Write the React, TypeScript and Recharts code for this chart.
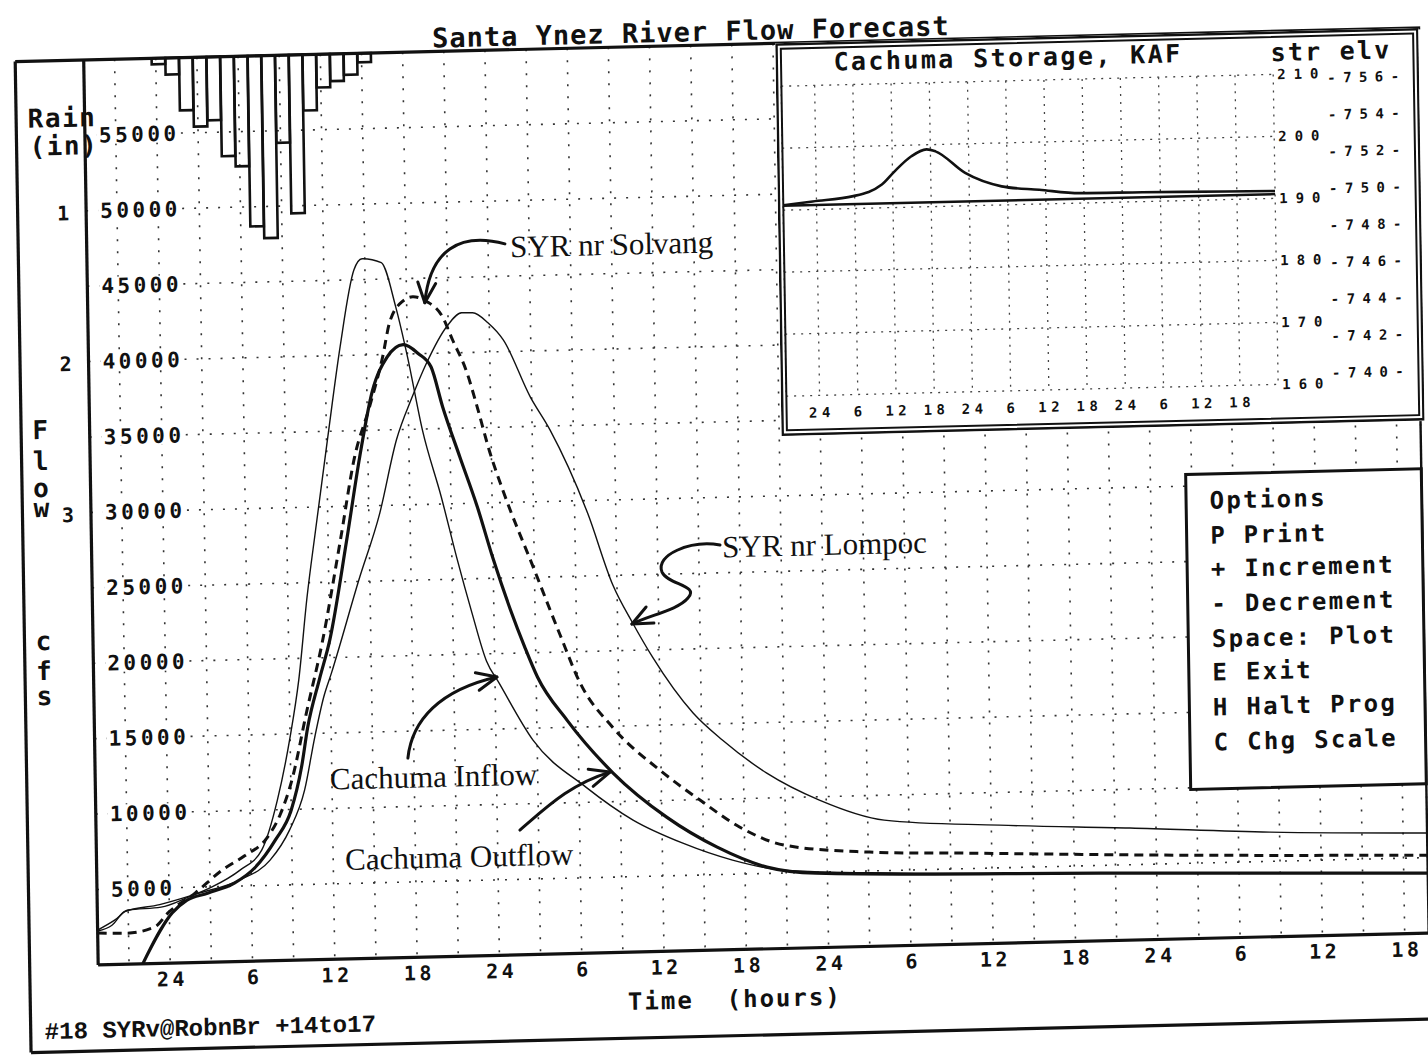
import React from 'react';
import {
  ComposedChart,
  LineChart,
  Line,
  Bar,
  XAxis,
  YAxis,
  CartesianGrid,
  ReferenceLine,
} from 'recharts';

// Hours are counted from the midnight before the storm: 24 = midnight, 30 = 6 am, 36 = noon ...
const timeTicks = [21, 24, 27, 30, 33, 36, 39, 42, 45, 48, 51, 54, 57, 60, 63, 66, 69, 72, 75, 78, 81, 84, 87, 90, 93, 96, 99, 102, 105, 108, 111, 114];
const timeLabelHours = [24, 30, 36, 42, 48, 54, 60, 66, 72, 78, 84, 90, 96, 102, 108, 114];
const timeLabels = ['24', '6', '12', '18', '24', '6', '12', '18', '24', '6', '12', '18', '24', '6', '12', '18'];
const flowTicks = [5000, 10000, 15000, 20000, 25000, 30000, 35000, 40000, 45000, 50000, 55000];
const rainTicks = [1, 2, 3];

// hourly rain (inches), bars hang from the top of the plot
const rainHours = [24.2, 25.2, 26.2, 27.2, 28.2, 29.2, 30.2, 31.2, 32.2, 33.2, 34.2, 35.2, 36.2, 37.2, 38.2, 39.2];
const rainInches = [0.04, 0.11, 0.35, 0.46, 0.42, 0.66, 0.73, 1.13, 1.21, 0.58, 1.05, 0.37, 0.22, 0.18, 0.14, 0.06];

// Cachuma Inflow (cfs)
const inflowHours = [18.75, 20, 21, 23.4, 25.4, 27.1, 29.2, 30.8, 32, 33, 33.7, 34.4, 35.1, 36.1, 37.1, 38.2, 38.8, 40.2, 41.2, 42, 43, 44.3, 45.35, 46.4, 47.4, 48.3, 50.7, 54.5, 57.9, 61.5, 65.1, 68.8, 77.3, 91.9, 115.75];
const inflowCfs = [2310, 2940, 3590, 3730, 4350, 4970, 6060, 7350, 10640, 14790, 18570, 24050, 28480, 34630, 40580, 45660, 46380, 46090, 43140, 39810, 34950, 30470, 26440, 22740, 19530, 18040, 14210, 11010, 8750, 7140, 5940, 5190, 4810, 4490, 3970];

// Cachuma Outflow (cfs)
const outflowHours = [22, 24.2, 25.3, 26.8, 28.8, 30.3, 31.8, 33, 33.8, 34.3, 35.2, 36, 37.35, 38.4, 39.4, 40.5, 41.7, 42.8, 43.7, 44.5, 45.7, 46.9, 48, 49.2, 50.2, 51.1, 53.2, 56.5, 60.35, 64, 67.6, 71.2, 91.9, 115.75];
const outflowCfs = [0, 3320, 4150, 4580, 5220, 6210, 7990, 9960, 12790, 15430, 18560, 21140, 27730, 33250, 37600, 39800, 40620, 40000, 39110, 36450, 33090, 29800, 26300, 22900, 20400, 18380, 15480, 11900, 8890, 6820, 5420, 4940, 4490, 3970];

// SYR nr Solvang (cfs)
const solvangHours = [18.75, 20.9, 22.9, 23.9, 25.9, 27.9, 29.55, 31.2, 32.2, 33.1, 34.25, 35.45, 36.9, 38.03, 39.17, 40.19, 40.73, 41.7, 42.45, 43.46, 44.6, 45.3, 46.3, 47, 47.9, 48.8, 51, 52.8, 54.2, 56.5, 59.9, 62.8, 65.65, 68.9, 75.1, 82.1, 96, 115.75];
const solvangCfs = [2110, 2060, 2420, 3340, 4610, 6090, 7000, 8150, 9700, 12000, 16500, 21000, 27780, 33260, 36540, 39850, 42100, 43490, 43780, 43450, 42400, 40870, 38710, 36450, 33320, 30800, 25480, 21130, 17920, 14950, 12020, 9970, 8120, 6850, 6250, 6030, 5600, 5160];

// SYR nr Lompoc (cfs)
const lompocHours = [18.75, 19.8, 20.75, 23.3, 26.2, 29.15, 31.4, 32.85, 34, 34.8, 35.5, 36.1, 38.2, 39.8, 41.1, 42.3, 43.4, 44.9, 46, 46.8, 47.9, 49, 50.9, 52.3, 54.95, 56.7, 58.1, 59.5, 62.4, 64.5, 67.7, 71.5, 76.2, 84.6, 94.1, 104.3, 115.75];
const lompocCfs = [2250, 2610, 3500, 3900, 4600, 5400, 6670, 8630, 11270, 14760, 17400, 19000, 25110, 29500, 34330, 37150, 39400, 41760, 42640, 42630, 41940, 40780, 36960, 34740, 29150, 24360, 21810, 19530, 15750, 13910, 11650, 9780, 8350, 7830, 7430, 6940, 6630];

// inset: Cachuma storage (KAF)
const insetTimeTicks = [24, 30, 36, 42, 48, 54, 60, 66, 72, 78, 84, 90];
const insetTimeLabels = ['24', '6', '12', '18', '24', '6', '12', '18', '24', '6', '12', '18'];
const storageTicks = [160, 170, 180, 190, 200, 210];
const elevTicks = [740, 742, 744, 746, 748, 750, 752, 754, 756];
const storageHours = [18.75, 23.4, 29.8, 34.3, 36.3, 39, 41.4, 42.8, 47.4, 53.1, 59, 65.4, 75.2, 88.2, 96];
const storageKaf = [190.8, 191.3, 192.0, 193.75, 195.8, 198.2, 199.25, 198.9, 195.3, 193.0, 192.3, 191.6, 191.5, 191.3, 191.2];
const storageBaseKaf = 190.7;

const optionLines = ['Options', 'P Print', '+ Increment', '- Decrement', 'Space: Plot', 'E Exit', 'H Halt Prog', 'C Chg Scale'];

// ---- layout ----
const W = 1428;
const H = 1064;
const PLOT = { left: 91.5, top: 45, right: 1422, bottom: 950 };
const TIME_DOMAIN: [number, number] = [18.75, 115.75];
const FLOW_DOMAIN: [number, number] = [0, 60000];
const RAIN_DOMAIN: [number, number] = [0, 6];
const INSET = { left: 782.7, top: 45, right: 1426, bottom: 437.6 };
const INSET_PLOT = { left: 788, top: 88, right: 1280, bottom: 398 };
const INSET_TIME_DOMAIN: [number, number] = [18.75, 96];
const STORAGE_DOMAIN: [number, number] = [160, 210];
const ELEV_DOMAIN: [number, number] = [739.44, 756.25];
// axes get a 1px size (a 0px axis is not drawn); margins make up for it
const AX = 1;
// the printout was scanned a little crooked
const SCAN_SKEW = 'matrix(1, -0.024, 0.016, 1, 0, 0)';

const MONO = '"DejaVu Sans Mono", monospace';
const CODE = '"Liberation Mono", monospace';
const SERIF = '"Liberation Serif", serif';
const INK = '#111';

type Row = { t: number; [key: string]: number };

function mergeSeries(series: [string, number[], number[]][]): Row[] {
  const byHour = new Map<number, Row>();
  series.forEach(([key, hours, values]) => {
    hours.forEach((t, i) => {
      const row = byHour.get(t) ?? { t };
      row[key] = values[i];
      byHour.set(t, row);
    });
  });
  return [...byHour.values()].sort((a, b) => a.t - b.t);
}

const flowData = mergeSeries([
  ['inflow', inflowHours, inflowCfs],
  ['outflow', outflowHours, outflowCfs],
  ['solvang', solvangHours, solvangCfs],
  ['lompoc', lompocHours, lompocCfs],
]);
const rainData = rainHours.map((t, i) => ({ t, rain: rainInches[i] }));
const storageData = storageHours.map((t, i) => ({ t, kaf: storageKaf[i] }));

function FlowTick(props: any) {
  const { y, payload } = props;
  const label = String(payload.value);
  return (
    <g>
      <rect x={PLOT.left + 12} y={y - 9} width={label.length * 16.2 + 2} height={18} fill="#fff" />
      <text x={PLOT.left + 14} y={y + 7.5} fontFamily={MONO} fontWeight="bold" fontSize={21} letterSpacing={3.5} fill={INK}>
        {label}
      </text>
    </g>
  );
}

function TimeTick(props: any) {
  const { x, payload } = props;
  const i = timeLabelHours.indexOf(payload.value);
  if (i < 0) return <g />;
  return (
    <text x={x + 2} y={PLOT.bottom + 23} textAnchor="middle" fontFamily={MONO} fontWeight="bold" fontSize={20} letterSpacing={3.5} fill={INK}>
      {timeLabels[i]}
    </text>
  );
}

function RainTick(props: any) {
  const { y, payload } = props;
  return (
    <text x={PLOT.left - 23} y={y + 9} textAnchor="middle" fontFamily={MONO} fontWeight="bold" fontSize={20} fill={INK}>
      {payload.value}
    </text>
  );
}

function InsetTimeTick(props: any) {
  const { x, payload } = props;
  const i = insetTimeTicks.indexOf(payload.value);
  if (i < 0) return <g />;
  return (
    <text x={x + 2} y={INSET_PLOT.bottom - INSET.top + 22} textAnchor="middle" fontFamily={MONO} fontWeight="bold" fontSize={14} letterSpacing={4.5} fill={INK}>
      {insetTimeLabels[i]}
    </text>
  );
}

function StorageTick(props: any) {
  const { y, payload } = props;
  return (
    <text x={INSET_PLOT.right - INSET.left + 4} y={y + 5} fontFamily={MONO} fontWeight="bold" fontSize={14} letterSpacing={8} fill={INK}>
      {payload.value}
    </text>
  );
}

function ElevTick(props: any) {
  const { y, payload } = props;
  return (
    <text x={1334 - INSET.left} y={y + 5} fontFamily={MONO} fontWeight="bold" fontSize={14} letterSpacing={7.4} fill={INK}>
      {`-${payload.value}-`}
    </text>
  );
}

function Arrow({ d, tip, from }: { d: string; tip: [number, number]; from: [number, number] }) {
  const ang = Math.atan2(tip[1] - from[1], tip[0] - from[0]);
  const len = 22;
  const spread = 0.42;
  const a1 = [tip[0] - len * Math.cos(ang - spread), tip[1] - len * Math.sin(ang - spread)];
  const a2 = [tip[0] - len * Math.cos(ang + spread), tip[1] - len * Math.sin(ang + spread)];
  return (
    <g fill="none" stroke={INK} strokeWidth={3} strokeLinecap="round" strokeLinejoin="round">
      <path d={d} />
      <path d={`M${a1[0]},${a1[1]} L${tip[0]},${tip[1]} L${a2[0]},${a2[1]}`} />
    </g>
  );
}

function MainChart() {
  return (
    <ComposedChart
      width={W}
      height={H}
      data={flowData}
      margin={{ top: PLOT.top, left: PLOT.left - AX, right: W - PLOT.right, bottom: H - PLOT.bottom - AX }}
    >
      <CartesianGrid yAxisId="flow" stroke="#333" strokeWidth={1.6} strokeDasharray="2 10" />
      <XAxis
        type="number"
        dataKey="t"
        domain={TIME_DOMAIN}
        ticks={timeTicks}
        interval={0}
        height={AX}
        axisLine={false}
        tickLine={false}
        tick={<TimeTick />}
        allowDataOverflow
      />
      <YAxis
        yAxisId="flow"
        type="number"
        domain={FLOW_DOMAIN}
        ticks={flowTicks}
        interval={0}
        width={AX}
        axisLine={false}
        tickLine={false}
        tick={<FlowTick />}
      />
      <Line yAxisId="flow" dataKey="inflow" type="monotone" stroke={INK} strokeWidth={1.4} dot={false} connectNulls isAnimationActive={false} />
      <Line yAxisId="flow" dataKey="lompoc" type="monotone" stroke={INK} strokeWidth={1.4} dot={false} connectNulls isAnimationActive={false} />
      <Line yAxisId="flow" dataKey="solvang" type="monotone" stroke={INK} strokeWidth={3} strokeDasharray="9 6" dot={false} connectNulls isAnimationActive={false} />
      <Line yAxisId="flow" dataKey="outflow" type="monotone" stroke={INK} strokeWidth={3.2} dot={false} connectNulls isAnimationActive={false} />
    </ComposedChart>
  );
}

function RainChart() {
  return (
    <ComposedChart
      width={W}
      height={H}
      data={rainData}
      margin={{ top: PLOT.top, left: PLOT.left - AX, right: W - PLOT.right, bottom: H - PLOT.bottom }}
    >
      <XAxis hide type="number" dataKey="t" domain={TIME_DOMAIN} allowDataOverflow />
      <YAxis
        yAxisId="rain"
        type="number"
        domain={RAIN_DOMAIN}
        reversed
        ticks={rainTicks}
        interval={0}
        width={AX}
        axisLine={false}
        tickLine={false}
        tick={<RainTick />}
      />
      <Bar yAxisId="rain" dataKey="rain" barSize={13.5} fill="none" stroke={INK} strokeWidth={2.6} isAnimationActive={false} />
    </ComposedChart>
  );
}

function StorageInset() {
  const w = INSET.right - INSET.left;
  const h = INSET.bottom - INSET.top;
  return (
    <div style={{ position: 'absolute', left: INSET.left, top: INSET.top, width: w, height: h, background: '#fff' }}>
      <div style={{ position: 'absolute', left: 0, top: 0 }}>
        <LineChart
          width={w}
          height={h}
          data={storageData}
          margin={{
            top: INSET_PLOT.top - INSET.top,
            left: INSET_PLOT.left - INSET.left,
            right: INSET.right - INSET_PLOT.right - 2 * AX,
            bottom: INSET.bottom - INSET_PLOT.bottom - AX,
          }}
        >
          <CartesianGrid yAxisId="kaf" stroke="#444" strokeWidth={1.3} strokeDasharray="2 6" />
          <XAxis
            type="number"
            dataKey="t"
            domain={INSET_TIME_DOMAIN}
            ticks={insetTimeTicks}
            interval={0}
            height={AX}
            axisLine={false}
            tickLine={false}
            tick={<InsetTimeTick />}
            allowDataOverflow
          />
          <YAxis
            yAxisId="kaf"
            orientation="right"
            type="number"
            domain={STORAGE_DOMAIN}
            ticks={storageTicks}
            interval={0}
            width={AX}
            axisLine={false}
            tickLine={false}
            tick={<StorageTick />}
          />
          <YAxis
            yAxisId="elev"
            orientation="right"
            type="number"
            domain={ELEV_DOMAIN}
            ticks={elevTicks}
            interval={0}
            width={AX}
            axisLine={false}
            tickLine={false}
            tick={<ElevTick />}
            allowDataOverflow
          />
          <ReferenceLine yAxisId="kaf" y={storageBaseKaf} stroke={INK} strokeWidth={2.5} />
          <Line yAxisId="kaf" dataKey="kaf" type="monotone" stroke={INK} strokeWidth={2.6} dot={false} isAnimationActive={false} />
        </LineChart>
      </div>
      <svg width={w} height={h} style={{ position: 'absolute', left: 0, top: 0 }}>
        <rect x={1.25} y={1.25} width={w - 2.5} height={h - 2.5} fill="none" stroke={INK} strokeWidth={2.5} />
        <rect x={5.5} y={5.5} width={w - 11} height={h - 11} fill="none" stroke={INK} strokeWidth={2} />
        <text x={58} y={28.6} fontFamily={MONO} fontWeight="bold" fontSize={25} letterSpacing={2.4} fill={INK}>
          Cachuma Storage, KAF
        </text>
        <text x={495} y={29.8} fontFamily={MONO} fontWeight="bold" fontSize={25} letterSpacing={2.2} fill={INK}>
          str elv
        </text>
      </svg>
    </div>
  );
}

function Decorations() {
  const flowLetters: [string, number][] = [
    ['F', 423], ['l', 454], ['o', 481], ['w', 501], ['c', 634], ['f', 664], ['s', 689],
  ];
  const optionBaselines = [520.7, 555.7, 589, 624, 659, 692.3, 727.3, 762.3];
  return (
    <svg width={W} height={H} style={{ position: 'absolute', left: 0, top: 0 }}>
      {/* outer frame and plot box */}
      <g stroke={INK} fill="none">
        <line x1={23} y1={PLOT.top} x2={W + 20} y2={PLOT.top} strokeWidth={3.2} />
        <line x1={23} y1={PLOT.top} x2={23} y2={1036} strokeWidth={3.2} />
        <line x1={23} y1={1036} x2={W + 20} y2={1036} strokeWidth={3.2} />
        <line x1={PLOT.left} y1={PLOT.top} x2={PLOT.left} y2={PLOT.bottom} strokeWidth={3.2} />
        <line x1={PLOT.left} y1={PLOT.bottom} x2={PLOT.right} y2={PLOT.bottom} strokeWidth={3.2} />
        <line x1={PLOT.right} y1={PLOT.top} x2={PLOT.right} y2={PLOT.bottom} strokeWidth={2.4} />
      </g>

      <text x={440} y={41} fontFamily={MONO} fontWeight="bold" fontSize={27} letterSpacing={1} fill={INK}>
        Santa Ynez River Flow Forecast
      </text>

      <text x={34.6} y={111.4} fontFamily={MONO} fontWeight="bold" fontSize={26} letterSpacing={1.5} fill={INK}>Rain</text>
      <text x={36} y={139.4} fontFamily={MONO} fontWeight="bold" fontSize={26} letterSpacing={1.5} fill={INK}>(in)</text>

      {flowLetters.map(([ch, y]) => (
        <text key={ch + y} x={42} y={y} textAnchor="middle" fontFamily={MONO} fontWeight="bold" fontSize={26} fill={INK}>
          {ch}
        </text>
      ))}

      <text x={620.5} y={1007.7} fontFamily={MONO} fontWeight="bold" fontSize={24} letterSpacing={2} fill={INK} xmlSpace="preserve">
        Time  (hours)
      </text>
      <text x={37} y={1022.9} fontFamily={CODE} fontWeight="bold" fontSize={24} fill={INK}>
        #18 SYRv@RobnBr +14to17
      </text>

      {/* hand-pasted labels */}
      <g fontFamily={SERIF} fontSize={31} fill={INK}>
        <text x={514.6} y={252.6}>SYR nr Solvang</text>
        <text x={721.8} y={557.7}>SYR nr Lompoc</text>
        <text x={326} y={780.3}>Cachuma Inflow</text>
        <text x={340} y={861}>Cachuma Outflow</text>
      </g>
      <Arrow d="M509.6,239 C464.8,225.9 434.5,243.2 428.6,295.9" tip={[428.6, 295.9]} from={[434.5, 243.2]} />
      <Arrow
        d="M719.8,545.1 C689.9,539.4 654.6,553.6 661.4,570.8 C667.2,583.9 699.2,584.7 686.9,597.4 C676.8,609.1 648.7,613.5 630.5,622"
        tip={[630.5, 622]}
        from={[648.7, 613.5]}
      />
      <Arrow d="M404.4,750.7 C409,712.8 437.5,683.4 494.7,671.8" tip={[494.7, 671.8]} from={[437.5, 683.4]} />
      <Arrow d="M515.2,825.3 C540.8,804.4 566.2,780.3 606.2,769.5" tip={[606.2, 769.5]} from={[566.2, 780.3]} />

      {/* options menu */}
      <rect x={1186.4} y={485.8} width={PLOT.right - 1186.4} height={315} fill="#fff" stroke={INK} strokeWidth={3} />
      {optionLines.map((line, i) => (
        <text key={line} x={1210} y={optionBaselines[i]} fontFamily={MONO} fontWeight="bold" fontSize={24} letterSpacing={2.3} fill={INK} xmlSpace="preserve">
          {line}
        </text>
      ))}
    </svg>
  );
}

export default function App() {
  return (
    <div style={{ position: 'absolute', left: 0, top: 0, width: W, height: H, overflow: 'hidden', background: '#fff' }}>
      <div
        style={{
          position: 'absolute',
          left: 0,
          top: 0,
          width: W,
          height: H,
          transform: SCAN_SKEW,
          transformOrigin: '714px 532px',
        }}
      >
        <div style={{ position: 'absolute', left: 0, top: 0 }}>
          <MainChart />
        </div>
        <div style={{ position: 'absolute', left: 0, top: 0 }}>
          <RainChart />
        </div>
        <Decorations />
        <StorageInset />
      </div>
    </div>
  );
}
